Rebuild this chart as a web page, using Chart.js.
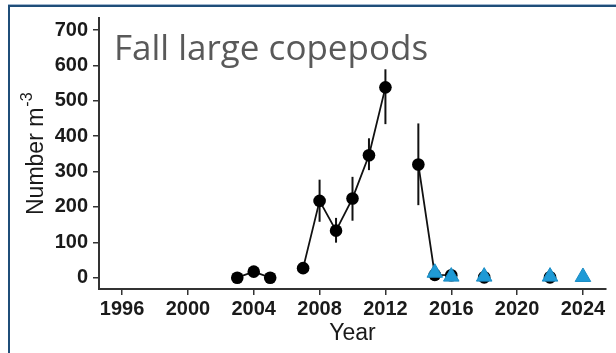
<!DOCTYPE html>
<html>
<head>
<meta charset="utf-8">
<script src="https://cdn.jsdelivr.net/npm/chart.js@4.4.0/dist/chart.umd.min.js"></script>
<style>
  html, body { margin: 0; padding: 0; background: #ffffff; }
  canvas { display: block; }
</style>
</head>
<body>
<canvas id="c" width="616" height="353"></canvas>
<script>
// Survey years (net samples), with null where no sample was taken
const netYears = [2003, 2004, 2005, 2006, 2007, 2008, 2009, 2010, 2011, 2012, 2013,
                  2014, 2015, 2016, 2017, 2018, 2019, 2020, 2021, 2022];
const netMean  = [0, 17, 0, null, 27, 217, 133, 224, 346, 538, null,
                  320, 8, 7, null, 1, null, null, null, 1];
const netLow   = [null, null, null, null, null, 158, 99, 161, 304, 434, null,
                  205, null, null, null, null, null, null, null, null];
const netHigh  = [null, null, null, null, null, 277, 169, 285, 394, 589, null,
                  436, null, null, null, null, null, null, null, null];

// Second sampling method
const altYears = [2015, 2016, 2018, 2022, 2024];
const altMean  = [14, 3, 3, 3, 2];

// Axis ticks
const xTicks = [1996, 2000, 2004, 2008, 2012, 2016, 2020, 2024];
const yTicks = [0, 100, 200, 300, 400, 500, 600, 700];

const tickFont = { family: "'Liberation Sans', Arial, sans-serif", size: 20, weight: 'bold' };
const ink = '#1a1a1a';

const errorBars = {
  id: 'errorBars',
  beforeDatasetsDraw(chart) {
    const { ctx, scales: { x, y } } = chart;
    ctx.save();
    ctx.strokeStyle = '#111';
    ctx.lineWidth = 2;
    netYears.forEach((yr, i) => {
      if (netLow[i] == null || netHigh[i] == null) return;
      const px = x.getPixelForValue(yr);
      ctx.beginPath();
      ctx.moveTo(px, y.getPixelForValue(netLow[i]));
      ctx.lineTo(px, y.getPixelForValue(netHigh[i]));
      ctx.stroke();
    });
    ctx.restore();
  }
};

const decorations = {
  id: 'decorations',
  afterDraw(chart) {
    const ctx = chart.ctx;
    ctx.save();
    // slide frame
    ctx.fillStyle = '#9fb6cf';
    ctx.fillRect(8, 4, 608, 1);
    ctx.fillStyle = '#1f4e79';
    ctx.fillRect(8, 5, 608, 2);
    ctx.fillRect(8, 5, 2, 348);

    // heading
    ctx.fillStyle = '#595959';
    ctx.font = "35px 'Open Sans', sans-serif";
    ctx.textAlign = 'left';
    ctx.textBaseline = 'alphabetic';
    ctx.fillText('Fall large copepods', 114, 60);

    // x axis title
    ctx.fillStyle = ink;
    ctx.font = "23px 'Liberation Sans', Arial, sans-serif";
    ctx.textAlign = 'center';
    const a = chart.chartArea;
    ctx.fillText('Year', (a.left + a.right) / 2, 340);

    // y axis title with superscript
    ctx.translate(43, 215);
    ctx.rotate(-Math.PI / 2);
    ctx.textAlign = 'left';
    ctx.font = "23px 'Liberation Sans', Arial, sans-serif";
    const main = 'Number m';
    ctx.fillText(main, 0, 0);
    const w = ctx.measureText(main).width;
    ctx.font = "16px 'Liberation Sans', Arial, sans-serif";
    ctx.fillText('-3', w + 1, -11);
    ctx.restore();
  }
};

const axisCommon = {
  type: 'linear',
  grid: { display: true, drawOnChartArea: false, drawTicks: true, tickLength: 6, color: '#333', lineWidth: 1.5 },
  border: { display: true, color: '#333', width: 2 },
};

new Chart(document.getElementById('c'), {
  type: 'line',
  data: {
    datasets: [
      {
        label: 'alt',
        data: altYears.map((yr, i) => ({ x: yr, y: altMean[i] })),
        showLine: false,
        pointStyle: 'triangle',
        pointRadius: 9,
        pointBackgroundColor: '#1f9ad6',
        pointBorderColor: '#1a8cc4',
        pointBorderWidth: 1,
        order: 0
      },
      {
        label: 'net',
        data: netYears.map((yr, i) => ({ x: yr, y: netMean[i] })),
        borderColor: '#111',
        borderWidth: 1.8,
        tension: 0,
        spanGaps: false,
        pointStyle: 'circle',
        pointRadius: 6.3,
        pointBackgroundColor: '#000',
        pointBorderColor: '#000',
        pointBorderWidth: 0,
        order: 1
      }
    ]
  },
  options: {
    responsive: false,
    animation: false,
    devicePixelRatio: 1,
    layout: { padding: { top: 18, right: 6, left: 0, bottom: 0 } },
    plugins: { legend: { display: false }, tooltip: { enabled: false } },
    scales: {
      x: {
        ...axisCommon,
        min: 1994.6,
        max: 2025.4,
        afterBuildTicks: s => { s.ticks = xTicks.map(v => ({ value: v })); },
        afterFit: s => { s.height = 64; },
        ticks: { font: tickFont, color: ink, padding: 2, maxRotation: 0, autoSkip: false, callback: v => String(v) }
      },
      y: {
        ...axisCommon,
        min: -32,
        max: 734,
        afterBuildTicks: s => { s.ticks = yTicks.map(v => ({ value: v })); },
        afterFit: s => { s.width = 99; },
        ticks: { font: tickFont, color: ink, padding: 5, autoSkip: false, callback: v => String(v) }
      }
    }
  },
  plugins: [errorBars, decorations]
});
</script>
</body>
</html>
